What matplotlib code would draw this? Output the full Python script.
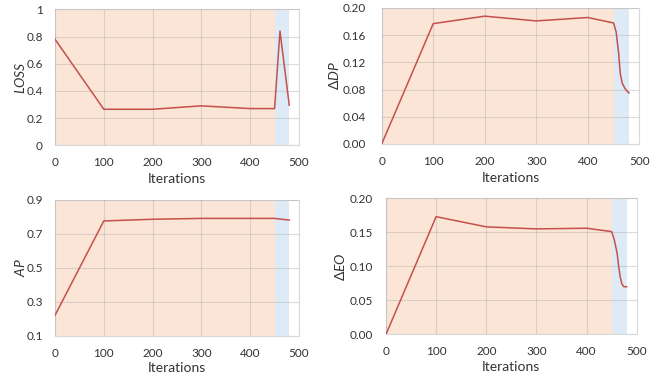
import matplotlib
matplotlib.use("Agg")
import matplotlib.pyplot as plt
from matplotlib.ticker import FormatStrFormatter

plt.rcParams['font.family'] = ['Lato', 'DejaVu Sans']
plt.rcParams['mathtext.fontset'] = 'custom'
plt.rcParams['mathtext.it'] = 'Lato:italic'
plt.rcParams['mathtext.rm'] = 'Lato'

# Data
loss_x = [0, 100, 200, 300, 400, 450, 461, 480]
loss_y = [0.78, 0.265, 0.265, 0.29, 0.27, 0.27, 0.84, 0.295]

dp_x = [0, 100, 200, 300, 400, 450, 455, 460, 463, 467, 472, 476, 480]
dp_y = [0.0, 0.177, 0.188, 0.181, 0.186, 0.178, 0.165, 0.133, 0.104, 0.089, 0.082, 0.078, 0.075]

ap_x = [0, 100, 200, 300, 400, 450, 480]
ap_y = [0.22, 0.775, 0.785, 0.79, 0.79, 0.79, 0.78]

eo_x = [0, 100, 200, 300, 400, 450, 455, 461, 464, 467, 470, 474, 480]
eo_y = [0.0, 0.173, 0.158, 0.155, 0.156, 0.151, 0.14, 0.119, 0.10, 0.085, 0.075, 0.07, 0.07]

loss_ticks = ['0', '0.2', '0.4', '0.6', '0.8', '1']

phase1 = (0, 450)
phase2 = (450, 480)

TXT = '#333333'
W, H = 659, 373
panels = [
    dict(x=loss_x, y=loss_y, ylabel=r'$\mathit{LOSS}$', ylim=(0, 1),
         yticks=[0, 0.2, 0.4, 0.6, 0.8, 1], fmt=None,
         px=(55, 9.3, 299, 145.3), ypad=12, ylx=20, xly=179),
    dict(x=dp_x, y=dp_y, ylabel=r'$\Delta\mathit{DP}$', ylim=(0, 0.2),
         yticks=[0, 0.04, 0.08, 0.12, 0.16, 0.20], fmt='%.2f',
         px=(381.7, 8, 639.3, 144), ypad=16, ylx=334, xly=178),
    dict(x=ap_x, y=ap_y, ylabel=r'$\mathit{AP}$', ylim=(0.1, 0.9),
         yticks=[0.1, 0.3, 0.5, 0.7, 0.9], fmt='%.1f',
         px=(55, 199.7, 299, 335.7), ypad=12, ylx=20, xly=368),
    dict(x=eo_x, y=eo_y, ylabel=r'$\Delta\mathit{EO}$', ylim=(0, 0.2),
         yticks=[0, 0.05, 0.10, 0.15, 0.20], fmt='%.2f',
         px=(386, 198.3, 636.7, 334.3), ypad=13, ylx=340, xly=367),
]

fig = plt.figure(figsize=(W / 100, H / 100), dpi=100)
for p in panels:
    l, t, r, b = p['px']
    ax = fig.add_axes([l / W, (H - b) / H, (r - l) / W, (b - t) / H])
    ax.axvspan(*phase1, color='#fbe5d6', zorder=0, lw=0)
    ax.axvspan(*phase2, color='#deebf7', zorder=0, lw=0)
    ax.plot(p['x'], p['y'], color='#c5504b', lw=1.1, zorder=3)
    ax.set_xlim(0, 500)
    ax.set_ylim(*p['ylim'])
    ax.set_xticks([0, 100, 200, 300, 400, 500])
    ax.set_yticks(p['yticks'])
    if p['fmt']:
        ax.yaxis.set_major_formatter(FormatStrFormatter(p['fmt']))
    else:
        ax.set_yticklabels(loss_ticks)
    ax.grid(True, color='#b0b0b0', alpha=0.45, lw=0.8, zorder=1)
    ax.set_axisbelow(False)
    for s in ax.spines.values():
        s.set_color('#d9d9d9')
        s.set_linewidth(0.8)
    ax.tick_params(axis='x', length=0, labelsize=8.5, colors=TXT, pad=8.5)
    ax.tick_params(axis='y', length=0, labelsize=8.5, colors=TXT, pad=p['ypad'] * 0.72)
    ax.set_xlabel('Iterations', fontsize=10, color=TXT)
    ax.xaxis.label.set_va('center')
    ax.xaxis.set_label_coords(0.5, (b - p['xly']) / (b - t))
    ax.set_ylabel(p['ylabel'], fontsize=10, color=TXT)
    ax.yaxis.label.set_va('center')
    ax.yaxis.set_label_coords((p['ylx'] - l) / (r - l), 0.5)

fig.savefig('out.png', dpi=100)
